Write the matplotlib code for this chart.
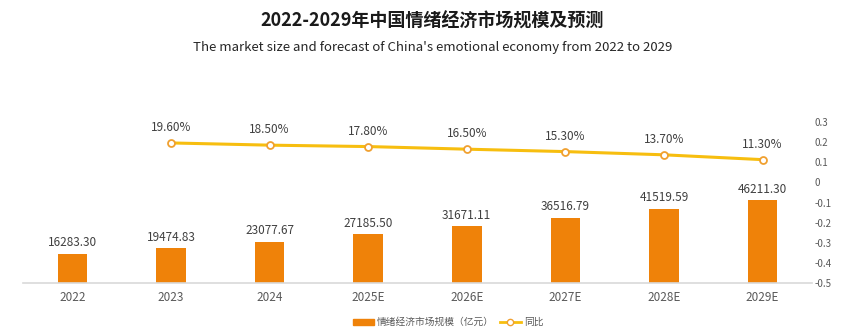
import matplotlib.pyplot as plt
import numpy as np
from matplotlib.patches import Patch
from matplotlib.lines import Line2D

plt.rcParams['font.family'] = ['Noto Sans CJK SC', 'DejaVu Sans']

# data
years = ["2022", "2023", "2024", "2025E", "2026E", "2027E", "2028E", "2029E"]
market_size = [16283.30, 19474.83, 23077.67, 27185.50, 31671.11, 36516.79, 41519.59, 46211.30]
growth_years = ["2023", "2024", "2025E", "2026E", "2027E", "2028E", "2029E"]
growth = [0.196, 0.185, 0.178, 0.165, 0.153, 0.137, 0.113]

bar_color = "#EF8209"
line_color = "#F7BE0F"

fig = plt.figure(figsize=(8.65, 3.34), dpi=100)
ax = fig.add_axes([0.0266, 0.1527, 0.912, 0.482])

x = np.arange(len(years))
ax.bar(x, market_size, width=0.3, color=bar_color, zorder=2)
for xi, v in zip(x, market_size):
    ax.text(xi, v + 2500, f"{v:.2f}", ha="center", va="bottom", fontsize=8.5, color="#404040")

ax.set_xlim(-0.5, len(years) - 0.5)
ax.set_ylim(0, 90000)
ax.set_xticks(x)
ax.set_xticklabels(years, fontsize=8.5, color="#595959")
ax.tick_params(axis="x", length=0, pad=6)
ax.set_yticks([])
for s in ["top", "right", "left"]:
    ax.spines[s].set_visible(False)
ax.spines["bottom"].set_color("#d9d9d9")
ax.spines["bottom"].set_linewidth(1.2)

ax2 = ax.twinx()
gx = [years.index(g) for g in growth_years]
ax2.plot(gx, growth, color=line_color, lw=2.2, marker="o", ms=5,
         markerfacecolor="white", markeredgecolor="#F0A030", markeredgewidth=1.3, zorder=3)
for xi, v in zip(gx, growth):
    ax2.text(xi, v + 0.045, f"{v*100:.2f}%", ha="center", va="bottom", fontsize=8.5, color="#404040")
ax2.set_ylim(-0.5, 0.3)
ax2.set_yticks(np.arange(-0.5, 0.31, 0.1))
ax2.set_yticklabels(["-0.5", "-0.4", "-0.3", "-0.2", "-0.1", "0", "0.1", "0.2", "0.3"],
                    fontsize=7, color="#595959")
ax2.tick_params(axis="y", length=0, pad=2)
for s in ["top", "right", "left", "bottom"]:
    ax2.spines[s].set_visible(False)

fig.text(0.5, 0.938, "2022-2029年中国情绪经济市场规模及预测", ha="center", va="center",
         fontsize=13, fontweight="bold", color="#1a1a1a")
fig.text(0.5, 0.857, "The market size and forecast of China's emotional economy from 2022 to 2029",
         ha="center", va="center", fontsize=9.5, color="#262626")

handles = [Patch(color=bar_color),
           Line2D([], [], color=line_color, lw=2, marker="o", ms=4.5,
                  markerfacecolor="white", markeredgecolor="#F0A030")]
fig.legend(handles, ["情绪经济市场规模（亿元）", "同比"], loc="center", bbox_to_anchor=(0.518, 0.035),
           ncol=2, frameon=False, fontsize=7, labelcolor="#595959", handlelength=2.2,
           handleheight=0.7, columnspacing=0.6, handletextpad=0.3)

fig.savefig("out.png", dpi=100)
